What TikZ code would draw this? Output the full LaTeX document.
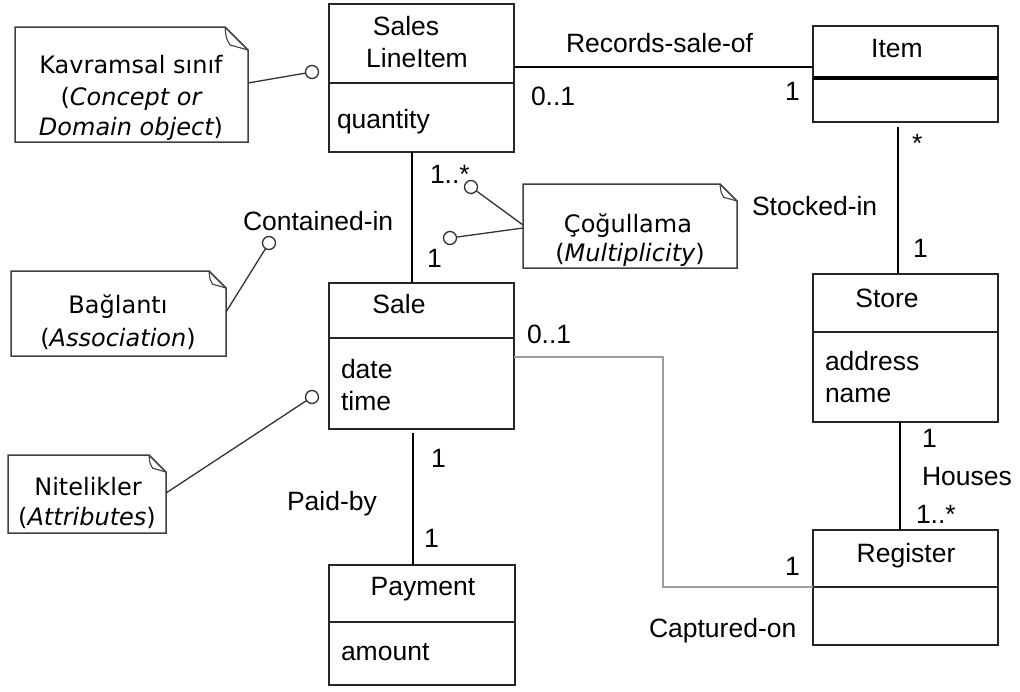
\documentclass[tikz,border=0pt]{standalone}
\usepackage{fontspec}
\setmainfont{Liberation Sans}
\newfontfamily\notefont{DejaVu Sans}
\usetikzlibrary{calc}
\tikzset{
  cls/.style={draw=black!85, line width=1.5pt, fill=white, inner sep=0pt, outer sep=0pt, anchor=north west},
  divline/.style={draw=black!85, line width=1.5pt},
  thickdiv/.style={draw=black, line width=3.5pt},
  assoc/.style={draw=black, line width=1.5pt},
  grayassoc/.style={draw=black!38, line width=2.2pt},
  txt/.style={font=\fontsize{26.5}{32}\selectfont, inner sep=0pt, outer sep=0pt, text=black},
  ctxt/.style={txt, anchor=base},
  ltxt/.style={txt, anchor=base west},
  notebox/.style={draw=none, inner sep=0pt, outer sep=0pt, anchor=north west},
  noteline/.style={draw=black!75, line width=1.5pt, line join=miter},
  ntxt/.style={font=\notefont\fontsize{24}{31}\selectfont, inner sep=0pt, outer sep=0pt, anchor=base, text=black},
  pin/.style={circle, draw=black!80, line width=1.3pt, fill=white, minimum size=13pt, inner sep=0pt, outer sep=0pt},
  pinline/.style={draw=black!80, line width=1.3pt}
}
\newcommand\drawnote[2]{%
  \draw[noteline, fill=white] (#1.north west) -- ([shift={(-#2,0)}]#1.north east) -- ([shift={(0,#2)}]#1.north east) -- (#1.south east) -- (#1.south west) -- cycle;
  \draw[noteline, line width=1.1pt] ([shift={(-#2,0)}]#1.north east) .. controls ([shift={(-0.95*#2,0.5*#2)}]#1.north east) .. ([shift={(-0.78*#2,0.78*#2)}]#1.north east) -- ([shift={(0,#2)}]#1.north east);
}
\begin{document}
\begin{tikzpicture}[x=1pt,y=-1pt]
\useasboundingbox[fill=white] (0,0) rectangle (1020,691);

% ---- class boxes ----
\node[cls, minimum width=185pt, minimum height=148pt] (sli) at (329,4) {};
\draw[divline] (sli.west |- 0,83) -- (sli.east |- 0,83);
\node[ctxt] (slit1) at (406,35) {Sales};
\node[ctxt] (slit2) at (417,67) {LineItem};
\node[ltxt] (slia) at (337,128) {quantity};

\node[cls, minimum width=185pt, minimum height=96pt] (item) at (813,26) {};
\draw[thickdiv] (item.west |- 0,78) -- (item.east |- 0,78);
\node[ctxt] (itemt) at (897,57) {Item};

\node[cls, minimum width=185pt, minimum height=146pt] (sale) at (329,283) {};
\draw[divline] (sale.west |- 0,338) -- (sale.east |- 0,338);
\node[ctxt] (salet) at (399,313) {Sale};
\node[ltxt] (salea1) at (341,378) {date};
\node[ltxt] (salea2) at (341,410) {time};

\node[cls, minimum width=185pt, minimum height=148pt] (store) at (813,274) {};
\draw[divline] (store.west |- 0,332) -- (store.east |- 0,332);
\node[ctxt] (storet) at (887,307) {Store};
\node[ltxt] (storea1) at (825,370) {address};
\node[ltxt] (storea2) at (825,402) {name};

\node[cls, minimum width=185pt, minimum height=115pt] (reg) at (813,530) {};
\draw[divline] (reg.west |- 0,587) -- (reg.east |- 0,587);
\node[ctxt] (regt) at (906,562) {Register};

\node[cls, minimum width=186pt, minimum height=120pt] (pay) at (329,565) {};
\draw[divline] (pay.west |- 0,622) -- (pay.east |- 0,622);
\node[ctxt] (payt) at (423,595) {Payment};
\node[ltxt] (paya) at (341,660) {amount};

% ---- associations ----
\draw[assoc] (sli.east |- 0,67) -- (item.west |- 0,67);
\node[ltxt] (rso) at (566,52) {Records-sale-of};
\node[ltxt] (m1) at (531,105) {0..1};
\node[ltxt] (m2) at (785,100) {1};

\draw[assoc] (898,127) coordinate (itemb) -- (store.north -| itemb);
\node[ltxt] (m3) at (912,152) {*};
\node[ltxt] (sti) at (752,215) {Stocked-in};
\node[ltxt] (m4) at (913,257) {1};

\draw[assoc] (sli.south -| 412,0) -- (sale.north -| 412,0);
\node[ltxt] (m5) at (430,183) {1..*};
\node[ltxt] (m6) at (427,267) {1};
\node[ltxt] (cin) at (243,230) {Contained-in};

\draw[grayassoc] (sale.east |- 0,357) -- (663,357) coordinate (cb1) -- (663,587) coordinate (cb2) -- (reg.west |- cb2);
\node[ltxt] (m7) at (527,343) {0..1};
\node[ltxt] (m8) at (785,575) {1};
\node[ltxt] (cap) at (649,637) {Captured-on};

\draw[assoc] (413,433) coordinate (saleb) -- (pay.north -| saleb);
\node[ltxt] (m9) at (431,467) {1};
\node[ltxt] (m10) at (424,547) {1};
\node[ltxt] (pby) at (287,510) {Paid-by};

\draw[assoc] (store.south -| 900,0) -- (reg.north -| 900,0);
\node[ltxt] (m11) at (922,447) {1};
\node[ltxt] (hou) at (922,485) {Houses};
\node[ltxt] (m12) at (916,523) {1..*};

% ---- notes ----
\node[notebox, minimum width=233pt, minimum height=115pt] (kav) at (15,27) {};
\drawnote{kav}{23}
\node[ntxt] (kavt1) at (131,73) {Kavramsal sınıf};
\node[ntxt] (kavt2) at (131,105) {({\itshape Concept or}};
\node[ntxt] (kavt3) at (131,135) {{\itshape Domain object})};
\node[pin] (p1) at (312,72) {};
\draw[pinline] (kav.east |- 0,83) -- (p1);

\node[notebox, minimum width=214pt, minimum height=84pt] (cog) at (523,184) {};
\drawnote{cog}{17}
\node[ntxt] (cogt1) at (628,232) {Çoğullama};
\node[ntxt] (cogt2) at (630,261) {({\itshape Multiplicity})};
\node[pin] (p2) at (471,187) {};
\node[pin] (p3) at (450,238) {};
\draw[pinline] (p2) -- (cog.west |- 0,225);
\draw[pinline] (p3) -- (cog.west |- 0,228);

\node[notebox, minimum width=215pt, minimum height=85pt] (bag) at (11,271) {};
\drawnote{bag}{17}
\node[ntxt] (bagt1) at (118,313) {Bağlantı};
\node[ntxt] (bagt2) at (118,346) {({\itshape Association})};
\node[pin] (p4) at (269,243) {};
\draw[pinline] (bag.east |- 0,312) -- (p4);

\node[notebox, minimum width=158pt, minimum height=78pt] (nit) at (8,455) {};
\drawnote{nit}{17}
\node[ntxt] (nitt1) at (88,495) {Nitelikler};
\node[ntxt] (nitt2) at (87,525) {({\itshape Attributes})};
\node[pin] (p5) at (312,397) {};
\draw[pinline] (nit.east |- 0,493) -- (p5);
\end{tikzpicture}
\end{document}
